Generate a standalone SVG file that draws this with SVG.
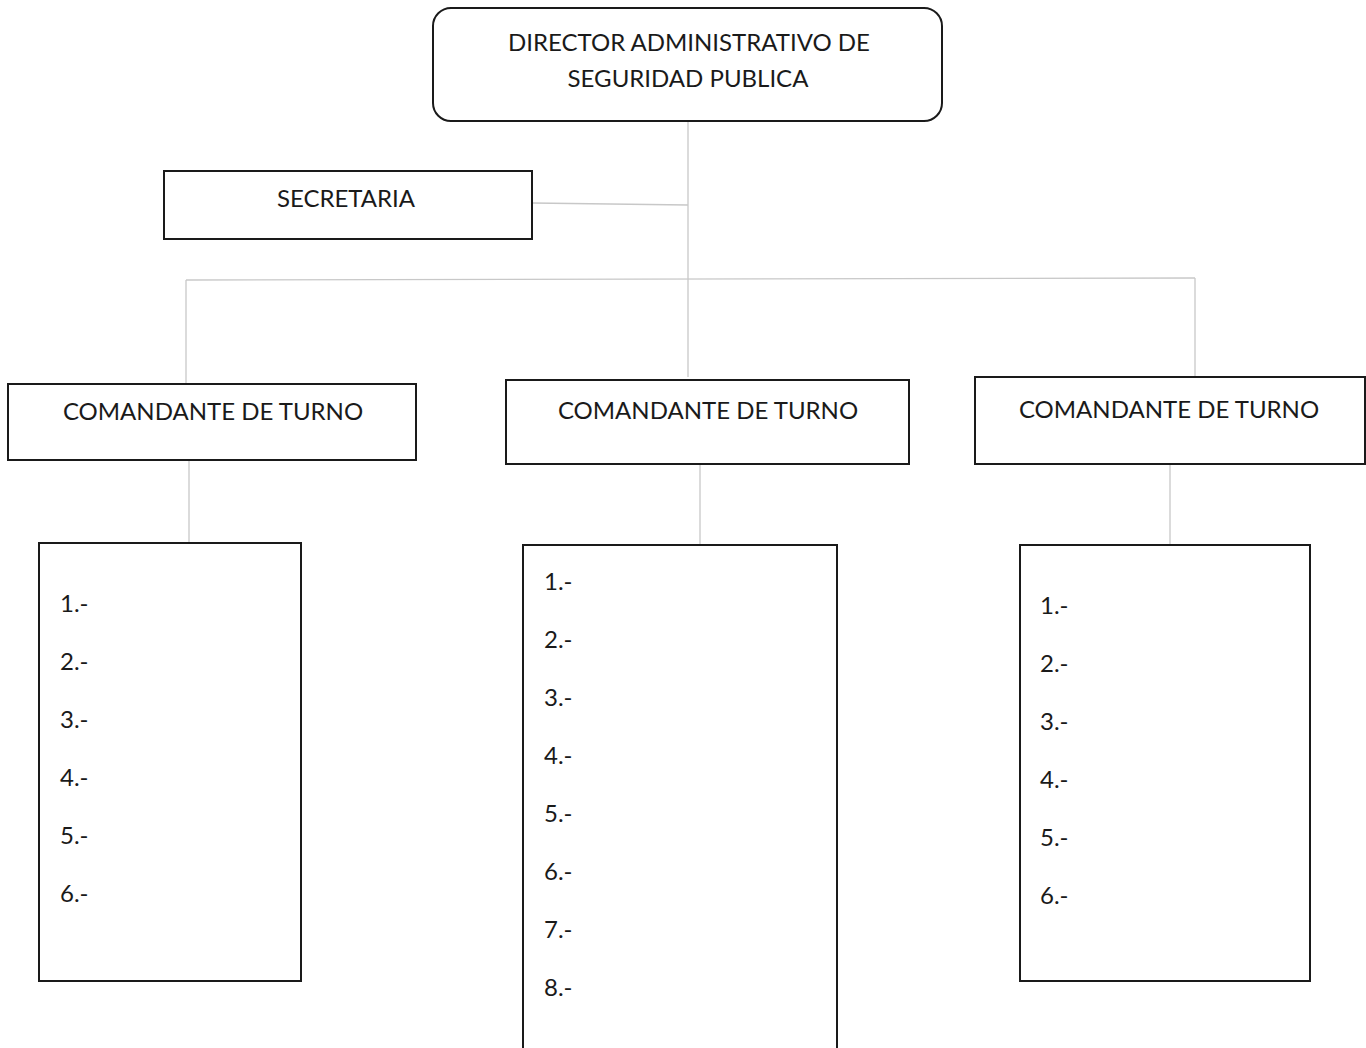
<svg xmlns="http://www.w3.org/2000/svg" width="1366" height="1048" viewBox="0 0 1366 1048">
<style>
.box{fill:#fff;stroke:#1a1a1a;stroke-width:2}
.t{font-family:Lato,"Open Sans","Liberation Sans",sans-serif;font-size:24px;fill:#1a1a1a}
.c{text-anchor:middle}
.ln{stroke:#c8c8c8;stroke-width:1.3;fill:none}
</style>
<rect width="1366" height="1048" fill="#fff"/>
<g id="connectors">
<path class="ln" d="M688,121 V377"/>
<path class="ln" d="M532,203 L688,205"/>
<path class="ln" d="M186,280 L1195,278"/>
<path class="ln" d="M186,280 V384"/>
<path class="ln" d="M1195,278 V377"/>
<path class="ln" d="M189,460 V543"/>
<path class="ln" d="M700,464 V545"/>
<path class="ln" d="M1170,464 V545"/>
</g>
<g id="director">
<rect class="box" x="433" y="8" width="509" height="113" rx="18"/>
<text class="t c" x="689" y="51">DIRECTOR ADMINISTRATIVO DE</text>
<text class="t c" x="688" y="87">SEGURIDAD PUBLICA</text>
</g>
<g id="secretaria">
<rect class="box" x="164" y="171" width="368" height="68"/>
<text class="t c" x="346" y="207">SECRETARIA</text>
</g>
<g id="comandante1">
<rect class="box" x="8" y="384" width="408" height="76"/>
<text class="t c" x="213" y="420">COMANDANTE DE TURNO</text>
</g>
<g id="comandante2">
<rect class="box" x="506" y="380" width="403" height="84"/>
<text class="t c" x="708" y="419">COMANDANTE DE TURNO</text>
</g>
<g id="comandante3">
<rect class="box" x="975" y="377" width="390" height="87"/>
<text class="t c" x="1169" y="418">COMANDANTE DE TURNO</text>
</g>
<g id="lista1">
<rect class="box" x="39" y="543" width="262" height="438"/>
<text class="t" x="60" y="612">1.-</text>
<text class="t" x="60" y="670">2.-</text>
<text class="t" x="60" y="728">3.-</text>
<text class="t" x="60" y="786">4.-</text>
<text class="t" x="60" y="844">5.-</text>
<text class="t" x="60" y="902">6.-</text>
</g>
<g id="lista2">
<rect class="box" x="523" y="545" width="314" height="510"/>
<text class="t" x="544" y="590">1.-</text>
<text class="t" x="544" y="648">2.-</text>
<text class="t" x="544" y="706">3.-</text>
<text class="t" x="544" y="764">4.-</text>
<text class="t" x="544" y="822">5.-</text>
<text class="t" x="544" y="880">6.-</text>
<text class="t" x="544" y="938">7.-</text>
<text class="t" x="544" y="996">8.-</text>
</g>
<g id="lista3">
<rect class="box" x="1020" y="545" width="290" height="436"/>
<text class="t" x="1040" y="614">1.-</text>
<text class="t" x="1040" y="672">2.-</text>
<text class="t" x="1040" y="730">3.-</text>
<text class="t" x="1040" y="788">4.-</text>
<text class="t" x="1040" y="846">5.-</text>
<text class="t" x="1040" y="904">6.-</text>
</g>
</svg>
